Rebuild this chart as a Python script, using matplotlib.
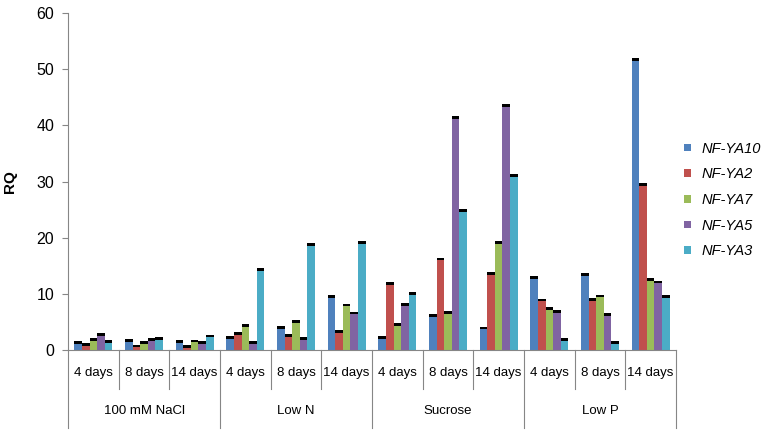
import numpy as np
import matplotlib.pyplot as plt
import matplotlib.transforms as mtransforms

plt.rcParams['font.family'] = ['Liberation Sans', 'DejaVu Sans']

# --- datos ---
days = ["4 days", "8 days", "14 days"]
treatments = ["100 mM NaCl", "Low N", "Sucrose", "Low P"]
genes = ["NF-YA10", "NF-YA2", "NF-YA7", "NF-YA5", "NF-YA3"]
colors = ["#4F81BD", "#C0504D", "#9BBB59", "#8064A2", "#4BACC6"]

ya10 = [1.5, 1.8, 1.6, 2.3, 4.1, 9.6, 2.3, 6.2, 4.0, 13.0, 13.5, 51.8]
ya2 = [1.1, 0.8, 0.7, 3.0, 2.7, 3.4, 12.0, 16.3, 13.7, 9.0, 9.1, 29.6]
ya7 = [1.9, 1.5, 1.7, 4.5, 5.2, 8.1, 4.6, 6.8, 19.3, 7.5, 9.7, 12.7]
ya5 = [2.8, 1.9, 1.5, 1.4, 2.1, 6.7, 8.2, 41.5, 43.6, 7.0, 6.4, 12.2]
ya3 = [1.6, 2.2, 2.6, 14.4, 18.9, 19.3, 10.1, 24.9, 31.2, 1.9, 1.5, 9.6]
series = [ya10, ya2, ya7, ya5, ya3]

n = len(ya10)
x = np.arange(n)
w = 0.15

fig = plt.figure(figsize=(7.68, 4.33), dpi=100)
ax = fig.add_axes([68/768, 1 - 350/433, 608/768, 337/433])

for i, (vals, c, g) in enumerate(zip(series, colors, genes)):
    pos = x + (i - 2) * w
    vals = np.array(vals)
    ax.bar(pos, vals, width=w, color=c, label=g, linewidth=0)
    # tapa negra encima de cada barra
    ax.bar(pos, 0.5, bottom=vals - 0.35, width=w, color="black", linewidth=0)

ax.set_xlim(-0.5, n - 0.5)
ax.set_ylim(0, 60)
ax.set_yticks(range(0, 61, 10))
ax.tick_params(axis='y', labelsize=11.5, length=4, color="#868686", pad=6)
ax.set_xticks([])
for s in ["top", "right"]:
    ax.spines[s].set_visible(False)
ax.spines["left"].set_color("#868686")
ax.spines["bottom"].set_color("#868686")
ax.set_ylabel("RQ", fontsize=11, fontweight="bold", labelpad=14)

# --- etiquetas de dos niveles ---
trans = mtransforms.blended_transform_factory(ax.transData, ax.transAxes)
for k in range(n + 1):
    bottom = -0.231 if k % 3 == 0 else -0.116
    ax.plot([k - 0.5, k - 0.5], [0, bottom], color="#868686", lw=0.8,
            transform=trans, clip_on=False)
for k in range(n):
    ax.text(k, -0.068, days[k % 3], transform=trans, ha="center", va="center",
            fontsize=9.5)
for j, t in enumerate(treatments):
    ax.text(3 * j + 1, -0.181, t, transform=trans, ha="center", va="center",
            fontsize=9.5)

leg = fig.legend(loc="center left", bbox_to_anchor=(684/768, 1 - 200/433),
                 bbox_transform=fig.transFigure, frameon=False, borderpad=0,
                 borderaxespad=0, prop={"style": "italic", "size": 10.5},
                 handlelength=0.45, handleheight=0.45, labelspacing=0.8,
                 handletextpad=0.75)

fig.savefig("out.png", dpi=100)
